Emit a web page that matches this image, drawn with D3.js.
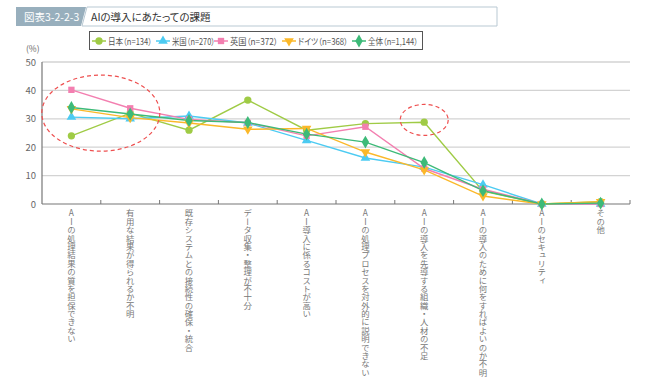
<!DOCTYPE html>
<html>
<head>
<meta charset="utf-8">
<script src="https://cdn.jsdelivr.net/npm/d3@7"></script>
<style>
  body { margin: 0; background: #fff; }
  svg text { font-family: "Noto Sans CJK JP", "Noto Sans", sans-serif; }
</style>
</head>
<body>
<div id="chart"></div>
<script>
const categories = [
    "AIの処理結果の質を担保できない",
    "有用な結果が得られるか不明",
    "既存システムとの接続性の確保・統合",
    "データ収集・整理が不十分",
    "AI導入に係るコストが高い",
    "AIの処理プロセスを対外的に説明できない",
    "AIの導入を先導する組織・人材の不足",
    "AIの導入のために何をすればよいのか不明",
    "AIのセキュリティ",
    "その他"
];
const seriesNames = ["日本（n=134）", "米国（n=270）", "英国（n=372）", "ドイツ（n=368）", "全体（n=1,144）"];
const japan   = [24.0, 32.0, 26.0, 36.6, 26.0, 28.3, 28.8, 4.5, 0.0, 0.8];
const usa     = [30.6, 30.0, 31.0, 28.5, 22.4, 16.2, 13.0, 6.8, 0.0, 0.0];
const uk      = [40.2, 33.7, 29.8, 28.6, 24.0, 27.2, 12.5, 5.2, 0.0, 0.0];
const germany = [33.5, 30.4, 28.5, 26.3, 26.6, 18.3, 12.0, 2.8, 0.0, 0.8];
const total   = [34.0, 31.7, 29.4, 28.7, 24.6, 21.8, 14.6, 4.7, 0.0, 0.3];
const yTicks = [0, 10, 20, 30, 40, 50];

const colors = ["#9fcb45", "#4ccbf2", "#f37fb0", "#fbb829", "#3dba78"];
const symbols = [d3.symbolCircle, d3.symbolTriangle, d3.symbolSquare, "down", d3.symbolDiamond];
const allSeries = [japan, usa, uk, germany, total];

const width = 667, height = 379;
const margin = {top: 62, right: 37, bottom: 175, left: 42};

const svg = d3.select("#chart").append("svg")
    .attr("width", width)
    .attr("height", height);

// title bar
svg.append("path")
    .attr("d", "M16,7 L86,7 L81,26 L16,26 Z")
    .attr("fill", "#98afbd");
svg.append("text")
    .attr("x", 24).attr("y", 20.5)
    .attr("font-size", 10.5)
    .attr("fill", "#fff")
    .style("font-feature-settings", "'palt'")
    .text("図表3-2-2-3");
svg.append("path")
    .attr("d", "M87,7 L497,7 L497,26 L82,26 Z")
    .attr("fill", "#fff")
    .attr("stroke", "#b9c9d3")
    .attr("stroke-width", 1);
svg.append("text")
    .attr("x", 91).attr("y", 20.5)
    .attr("font-size", 10.5)
    .attr("fill", "#333")
    .style("font-feature-settings", "'palt'")
    .text("AIの導入にあたっての課題");

const x = d3.scaleBand()
    .domain(categories)
    .range([margin.left, width - margin.right]);

const y = d3.scaleLinear()
    .domain([0, 50])
    .range([height - margin.bottom, margin.top]);

// grid
svg.append("g")
    .selectAll("line")
    .data(yTicks.filter(d => d > 0))
    .join("line")
    .attr("x1", margin.left)
    .attr("x2", width - margin.right)
    .attr("y1", d => y(d))
    .attr("y2", d => y(d))
    .attr("stroke", "#d3d3d3")
    .attr("stroke-width", 1.3);

// y labels
svg.append("g")
    .selectAll("text")
    .data(yTicks)
    .join("text")
    .attr("x", margin.left - 6)
    .attr("y", d => y(d) + 3.5)
    .attr("text-anchor", "end")
    .attr("font-size", 9.5)
    .attr("fill", "#666")
    .text(d => d);

svg.append("text")
    .attr("x", 26).attr("y", 52)
    .attr("font-size", 8.5)
    .attr("fill", "#666")
    .text("(%)");

// axes lines
svg.append("line")
    .attr("x1", margin.left).attr("x2", margin.left)
    .attr("y1", y(50)).attr("y2", y(0))
    .attr("stroke", "#777").attr("stroke-width", 1.2);
svg.append("line")
    .attr("x1", margin.left).attr("x2", width - margin.right)
    .attr("y1", y(0)).attr("y2", y(0))
    .attr("stroke", "#777").attr("stroke-width", 1.2);

// x ticks between bands
const bounds = categories.map(c => x(c) + x.bandwidth());
svg.append("g")
    .selectAll("line")
    .data(bounds)
    .join("line")
    .attr("x1", d => d).attr("x2", d => d)
    .attr("y1", y(0)).attr("y2", y(0) - 4)
    .attr("stroke", "#777").attr("stroke-width", 1);

// x labels (vertical)
svg.append("g")
    .selectAll("text")
    .data(categories)
    .join("text")
    .attr("x", d => x(d) + x.bandwidth() / 2)
    .attr("y", y(0) + 5)
    .attr("font-size", 8.4)
    .attr("fill", "#777")
    .style("writing-mode", "vertical-rl")
    .style("text-orientation", "upright")
    .text(d => d);

function markerPath(i, size) {
    if (symbols[i] === "down") {
        return d3.symbol(d3.symbolTriangle, size)();
    }
    return d3.symbol(symbols[i], size)();
}
const markerSize = [42, 40, 40, 40, 48];

const line = d3.line()
    .x((d, i) => x(categories[i]) + x.bandwidth() / 2)
    .y(d => y(d));

allSeries.forEach((vals, si) => {
    svg.append("path")
        .datum(vals)
        .attr("fill", "none")
        .attr("stroke", colors[si])
        .attr("stroke-width", 1.4)
        .attr("d", line);
});
allSeries.forEach((vals, si) => {
    svg.append("g")
        .selectAll("path")
        .data(vals)
        .join("path")
        .attr("d", markerPath(si, markerSize[si]))
        .attr("transform", (d, i) => {
            const px = x(categories[i]) + x.bandwidth() / 2;
            const py = y(d);
            return symbols[si] === "down"
                ? `translate(${px},${py}) rotate(180)`
                : `translate(${px},${py})`;
        })
        .attr("fill", colors[si]);
});

// highlight ellipses
svg.append("ellipse")
    .attr("cx", x(categories[1]))
    .attr("cy", y(32))
    .attr("rx", 59).attr("ry", 38)
    .attr("fill", "none")
    .attr("stroke", "#ee5050")
    .attr("stroke-width", 1.2)
    .attr("stroke-dasharray", "4,3");
svg.append("ellipse")
    .attr("cx", x(categories[6]) + x.bandwidth() / 2)
    .attr("cy", y(29.6))
    .attr("rx", 24).attr("ry", 15.5)
    .attr("fill", "none")
    .attr("stroke", "#ee5050")
    .attr("stroke-width", 1.2)
    .attr("stroke-dasharray", "4,3");

// legend
const legend = svg.append("g");
legend.append("rect")
    .attr("x", 89.5).attr("y", 31.5)
    .attr("width", 333).attr("height", 18)
    .attr("fill", "#fff")
    .attr("stroke", "#555")
    .attr("stroke-width", 1);
const legendX = [99, 163, 221, 289, 359];
const legendW = [44, 43, 48, 50, 50];
seriesNames.forEach((name, i) => {
    const lx = legendX[i], ly = 41;
    legend.append("line")
        .attr("x1", lx - 7).attr("x2", lx + 7)
        .attr("y1", ly).attr("y2", ly)
        .attr("stroke", colors[i]).attr("stroke-width", 1.5);
    legend.append("path")
        .attr("d", markerPath(i, markerSize[i]))
        .attr("transform", symbols[i] === "down"
            ? `translate(${lx},${ly}) rotate(180)` : `translate(${lx},${ly})`)
        .attr("fill", colors[i]);
    legend.append("text")
        .attr("x", lx + 9).attr("y", ly + 3.5)
        .attr("font-size", 8.8)
        .attr("fill", "#555")
        .style("font-feature-settings", "'palt'")
        .attr("textLength", legendW[i])
        .attr("lengthAdjust", "spacingAndGlyphs")
        .text(name);
});
</script>
</body>
</html>
